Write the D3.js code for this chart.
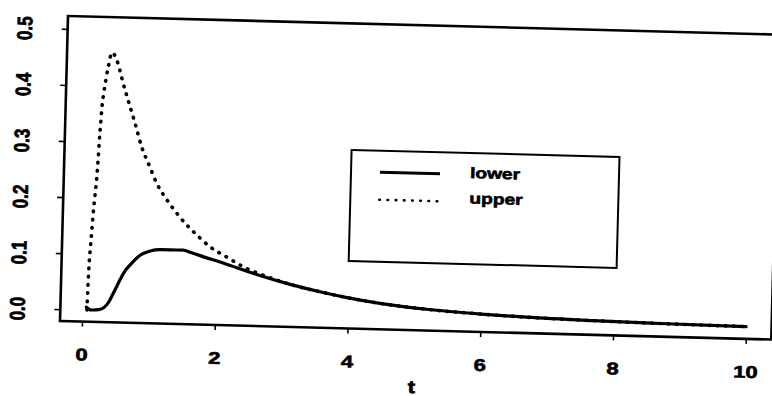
<!DOCTYPE html>
<html>
<head>
<meta charset="utf-8">
<script src="https://cdn.jsdelivr.net/npm/d3@7"></script>
<style>
  html, body { margin: 0; padding: 0; background: #fff; }
  svg { display: block; }
  text { font-family: "Liberation Sans", Arial, Helvetica, sans-serif; font-weight: bold; fill: #000; stroke: #000; stroke-width: 0.6px; }
</style>
</head>
<body>
<svg id="chart" width="772" height="396"></svg>
<script>
// Lower bound curve, t and value
const lowerT   = [0.06, 0.13, 0.25, 0.40, 0.46, 0.65, 0.70, 0.85, 1.00, 1.15, 1.30, 1.50, 1.60, 1.75, 2.10, 2.61, 3.12, 3.62, 3.98, 4.50, 5.18, 6.00, 6.69, 7.69, 8.70, 10.0];
const lowerVal = [0.005, 0.0, 0.001, 0.016, 0.031, 0.075, 0.082, 0.100, 0.108, 0.111, 0.111, 0.111, 0.1075, 0.102, 0.090, 0.071, 0.055, 0.042, 0.034, 0.025, 0.017, 0.011, 0.0075, 0.0045, 0.0025, 0.001];

// Upper bound curve, t and value
const upperT   = [0.07, 0.075, 0.086, 0.10, 0.114, 0.127, 0.146, 0.165, 0.18, 0.19, 0.203, 0.216, 0.24, 0.27, 0.30, 0.345, 0.41, 0.47, 0.52, 0.59, 0.72, 0.83, 0.96, 1.07, 1.23, 1.43, 1.72, 1.90, 2.15, 2.41, 2.81, 3.12, 3.62, 3.98, 4.50, 5.18, 6.00, 6.69, 7.69, 8.70, 10.0];
const upperVal = [0.0, 0.04, 0.086, 0.116, 0.146, 0.175, 0.205, 0.235, 0.272, 0.303, 0.333, 0.362, 0.39, 0.416, 0.437, 0.46, 0.45, 0.429, 0.408, 0.382, 0.335, 0.293, 0.258, 0.229, 0.20, 0.17, 0.136, 0.118, 0.101, 0.084, 0.066, 0.055, 0.042, 0.034, 0.025, 0.017, 0.011, 0.0075, 0.0045, 0.0025, 0.001];

const xTicks = [0, 2, 4, 6, 8, 10];
const yTicks = [0, 0.1, 0.2, 0.3, 0.4, 0.5];
const xTitle = "t";
const seriesNames = ["lower", "upper"];

const svg = d3.select("#chart");
svg.append("rect").attr("width", 772).attr("height", 396).attr("fill", "#fff");

// plot frame (slightly tilted page)
const box = { left: 68, top: 16, right: 779.5, bottom: 321 };
const g = svg.append("g").attr("transform", `rotate(1.5, ${box.left}, ${box.top})`);

const x = d3.scaleLinear().domain([0, 10]).range([90, 754]);
const y = d3.scaleLinear().domain([0, 0.5]).range([309.3, 28.9]);

// x axis
const xAxis = g.append("g")
  .attr("transform", `translate(0, ${box.bottom})`)
  .call(d3.axisBottom(x).tickValues(xTicks).tickSize(5).tickFormat(d3.format("d")));
xAxis.select(".domain").remove();
xAxis.selectAll(".tick line").attr("stroke", "#000").attr("stroke-width", 1.6);
xAxis.selectAll(".tick text")
  .attr("y", 39).attr("dy", null)
  .attr("font-size", 17)
  .attr("transform", "scale(1.3,1)");

// y axis
const yAxis = g.append("g")
  .attr("transform", `translate(${box.left}, 0)`)
  .call(d3.axisLeft(y).tickValues(yTicks).tickSize(6).tickFormat(d3.format(".1f")));
yAxis.select(".domain").remove();
yAxis.selectAll(".tick line").attr("stroke", "#000").attr("stroke-width", 1.6);
yAxis.selectAll(".tick text")
  .attr("x", 0).attr("y", 0).attr("dy", "0.35em")
  .attr("text-anchor", "middle")
  .attr("font-size", 17)
  .attr("transform", "translate(-43,0) rotate(-90) scale(1,1.25)");

// frame
g.append("rect")
  .attr("x", box.left).attr("y", box.top)
  .attr("width", box.right - box.left).attr("height", box.bottom - box.top)
  .attr("fill", "none").attr("stroke", "#000").attr("stroke-width", 2.6);

// axis title
g.append("text")
  .attr("transform", "translate(421,384) scale(1.25,1)")
  .attr("text-anchor", "middle")
  .attr("font-size", 18)
  .text(xTitle);

// curves
const line = d3.line().x(d => x(d[0])).y(d => y(d[1])).curve(d3.curveMonotoneX);
const lowerData = lowerT.map((t, i) => [t, lowerVal[i]]);
const upperData = upperT.map((t, i) => [t, upperVal[i]]);

const styles = {
  lower: { width: 3.2, dash: null, cap: "round" },
  upper: { width: 3.6, dash: "0.6,7.6", cap: "round" }
};

g.append("path").datum(upperData)
  .attr("d", line).attr("fill", "none").attr("stroke", "#000")
  .attr("stroke-width", styles.upper.width)
  .attr("stroke-dasharray", styles.upper.dash)
  .attr("stroke-linecap", styles.upper.cap);

g.append("path").datum(lowerData)
  .attr("d", line).attr("fill", "none").attr("stroke", "#000")
  .attr("stroke-width", styles.lower.width)
  .attr("stroke-linecap", styles.lower.cap);

// legend
const legend = g.append("g");
legend.append("rect")
  .attr("x", 355).attr("y", 142.5).attr("width", 268).attr("height", 111)
  .attr("fill", "#fff").attr("stroke", "#000").attr("stroke-width", 2);

const rowY = [164, 191.5];
const textY = [167.5, 193];
seriesNames.forEach((name, i) => {
  const s = styles[name];
  legend.append("line")
    .attr("x1", 384).attr("x2", name === "lower" ? 444 : 442)
    .attr("y1", rowY[i]).attr("y2", rowY[i])
    .attr("stroke", "#000")
    .attr("stroke-width", name === "lower" ? 3 : 2.6)
    .attr("stroke-dasharray", s.dash)
    .attr("stroke-linecap", name === "lower" ? "butt" : "round");
  legend.append("text")
    .attr("transform", `translate(474, ${textY[i]}) scale(1.28,1)`)
    .attr("font-size", 15)
    .text(name);
});
</script>
</body>
</html>
